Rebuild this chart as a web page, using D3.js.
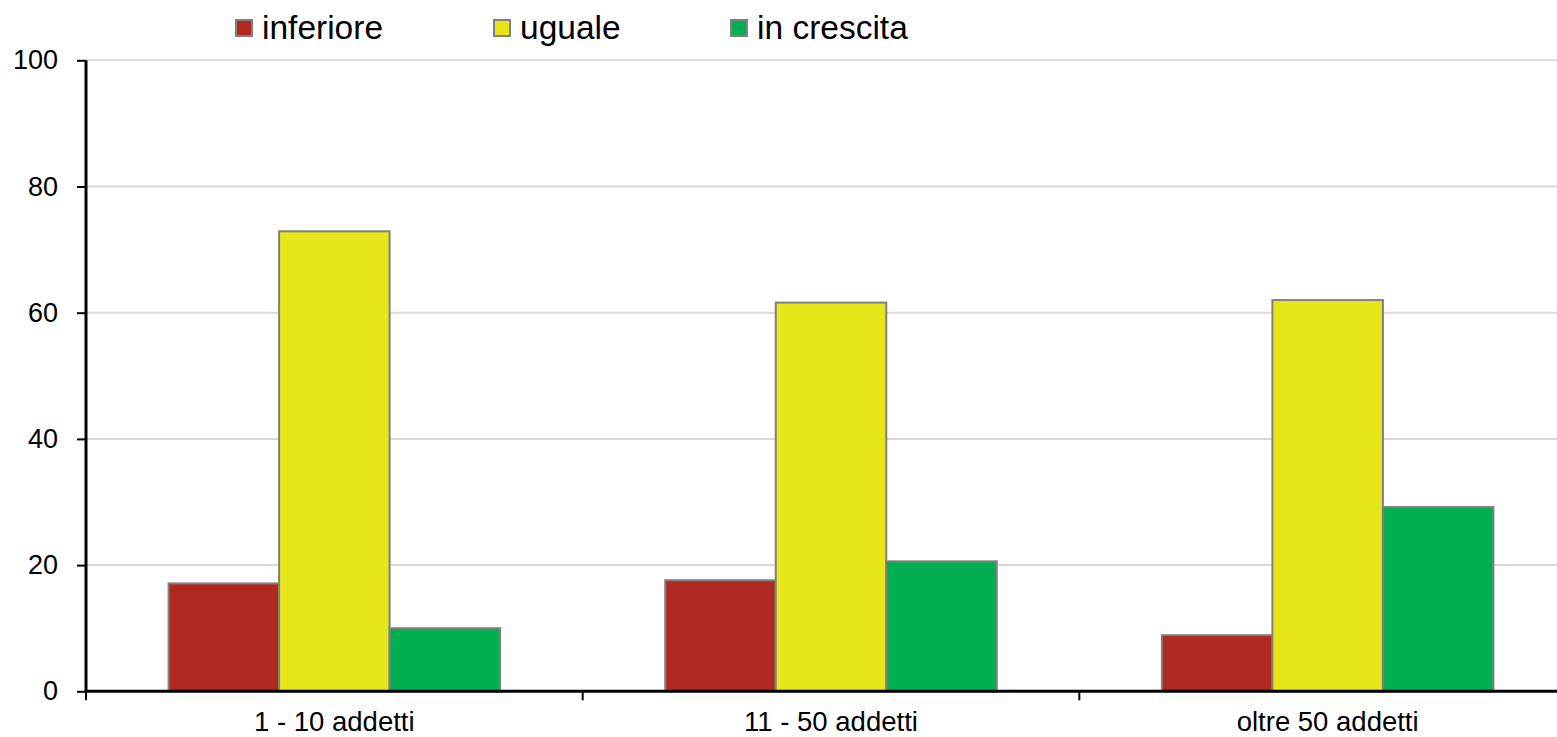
<!DOCTYPE html>
<html>
<head>
<meta charset="utf-8">
<script src="https://cdn.jsdelivr.net/npm/d3@7"></script>
<style>
  html, body { margin: 0; padding: 0; background: #fff; }
  svg { display: block; font-family: "Liberation Sans", Arial, sans-serif; }
</style>
</head>
<body>
<svg id="chart" width="1557" height="737"></svg>
<script>
const categories = ["1 - 10 addetti", "11 - 50 addetti", "oltre 50 addetti"];
const seriesNames = ["inferiore", "uguale", "in crescita"];
const seriesColors = ["#B0281F", "#E6E61A", "#00AF4F"];
const inferiore = [17.1, 17.6, 8.9];
const uguale = [72.9, 61.6, 62.0];
const inCrescita = [10.0, 20.6, 29.2];
const yTicks = [0, 20, 40, 60, 80, 100];
const legendX = [235, 493, 730];

const seriesValues = [inferiore, uguale, inCrescita];

const svg = d3.select("#chart");
const W = 1557, H = 737;
const mLeft = 86, mRight = 1576, mTop = 60.3, mBottom = 691.3;

const x0 = d3.scaleBand().domain(categories).range([mLeft, mRight]).paddingInner(0).paddingOuter(0);
const x1 = d3.scaleBand().domain(seriesNames).range([0, x0.bandwidth()]).paddingInner(0).paddingOuter(0.747);
const y = d3.scaleLinear().domain([0, 100]).range([mBottom, mTop]);

// gridlines
svg.append("g").selectAll("line").data(yTicks.filter(d => d > 0)).join("line")
  .attr("x1", mLeft).attr("x2", W)
  .attr("y1", d => y(d)).attr("y2", d => y(d))
  .attr("stroke", "#d9d9d9").attr("stroke-width", 2);

// bars
const data = [];
categories.forEach((c, i) => {
  seriesNames.forEach((s, j) => data.push({ c, s, j, v: seriesValues[j][i] }));
});
svg.append("g").selectAll("rect").data(data).join("rect")
  .attr("x", d => x0(d.c) + x1(d.s))
  .attr("y", d => y(d.v))
  .attr("width", x1.bandwidth())
  .attr("height", d => mBottom - y(d.v))
  .attr("fill", d => seriesColors[d.j])
  .attr("stroke", "#808080").attr("stroke-width", 2);

// y axis
const yAxis = d3.axisLeft(y).tickValues(yTicks).tickSize(9).tickPadding(19).tickFormat(d3.format("d"));
const gy = svg.append("g").attr("transform", `translate(${mLeft},0)`).call(yAxis);
gy.select(".domain").remove();
gy.selectAll(".tick line").attr("stroke", "#000").attr("stroke-width", 2);
gy.selectAll(".tick text").attr("font-size", 27).attr("fill", "#000")
  .attr("font-family", "Liberation Sans, Arial, sans-serif");
svg.append("line").attr("x1", mLeft).attr("x2", mLeft).attr("y1", mTop).attr("y2", mBottom + 1)
  .attr("stroke", "#000").attr("stroke-width", 3);

// x axis
svg.append("line").attr("x1", mLeft - 1).attr("x2", W).attr("y1", mBottom).attr("y2", mBottom)
  .attr("stroke", "#000").attr("stroke-width", 3);
svg.append("g").selectAll("line").data(categories).join("line")
  .attr("x1", d => x0(d)).attr("x2", d => x0(d))
  .attr("y1", mBottom).attr("y2", mBottom + 9)
  .attr("stroke", "#000").attr("stroke-width", 2);
svg.append("g").selectAll("text").data(categories).join("text")
  .attr("x", d => x0(d) + x0.bandwidth() / 2)
  .attr("y", 731)
  .attr("text-anchor", "middle")
  .attr("font-size", 27.5).attr("fill", "#000")
  .text(d => d);

// legend
const lg = svg.append("g").selectAll("g").data(seriesNames).join("g")
  .attr("transform", (d, i) => `translate(${legendX[i]},0)`);
lg.append("rect").attr("x", 1).attr("y", 20).attr("width", 16).attr("height", 16)
  .attr("fill", (d, i) => seriesColors[i]).attr("stroke", "#808080").attr("stroke-width", 2);
lg.append("text").attr("x", 27).attr("y", 39).attr("font-size", 33.5).attr("fill", "#000").text(d => d);
</script>
</body>
</html>
